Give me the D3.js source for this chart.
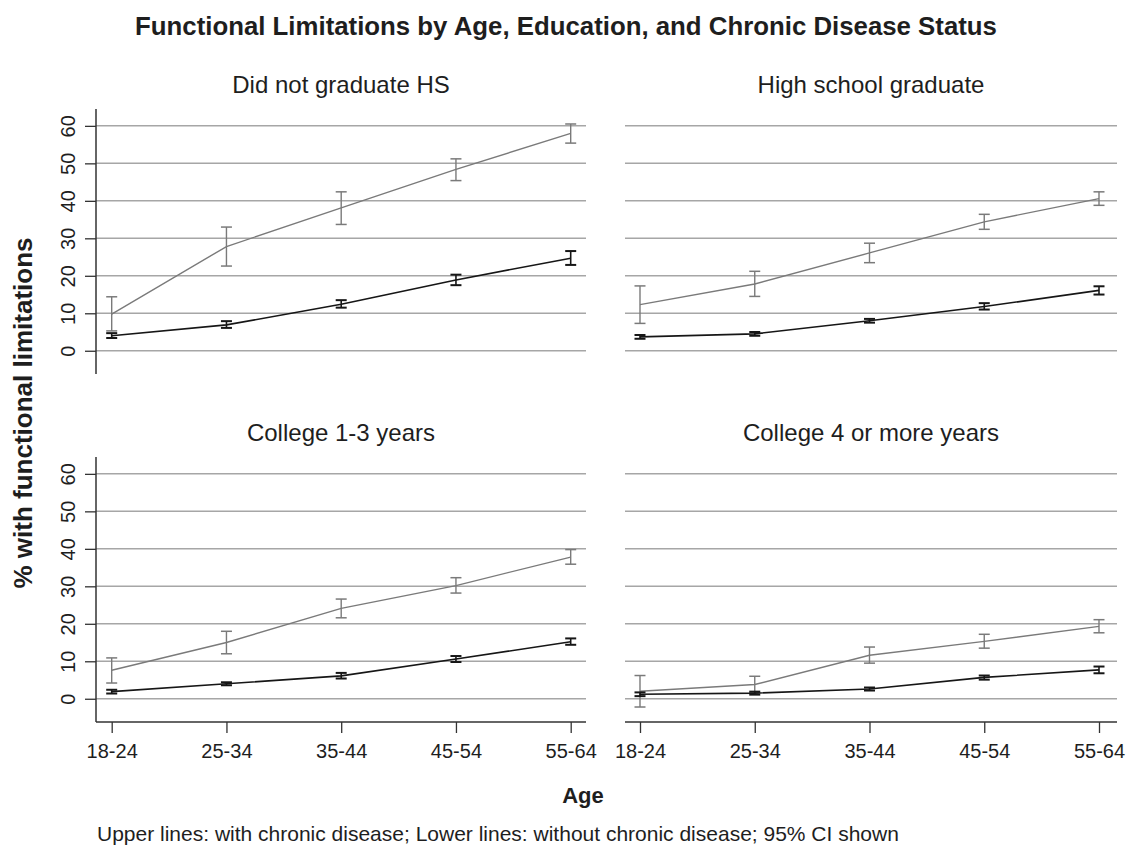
<!DOCTYPE html>
<html>
<head>
<meta charset="utf-8">
<script src="https://cdn.jsdelivr.net/npm/d3@7"></script>
<style>
  html, body { margin: 0; padding: 0; background: #fff; }
  svg { display: block; font-family: "Liberation Sans", Arial, Helvetica, sans-serif; }
</style>
</head>
<body>
<svg id="chart" width="1126" height="845"></svg>
<script>
// Age groups on the x axis
const ageGroups = ["18-24", "25-34", "35-44", "45-54", "55-64"];
// One panel per education level
const educationLevels = ["Did not graduate HS", "High school graduate", "College 1-3 years", "College 4 or more years"];
const yTicks = [0, 10, 20, 30, 40, 50, 60];

// % with functional limitations, people with a chronic disease (upper lines)
const withChronic     = [[9.8, 27.8, 38.1, 48.4, 58.0], [12.3, 17.8, 26.1, 34.4, 40.6], [7.6, 15.0, 24.1, 30.2, 37.8], [2.0, 3.8, 11.6, 15.3, 19.3]];
const withChronicLow  = [[5.3, 22.6, 33.7, 45.4, 55.4], [7.3, 14.5, 23.5, 32.4, 38.8], [4.2, 12.0, 21.6, 28.2, 35.9], [-2.2, 1.6, 9.5, 13.5, 17.6]];
const withChronicHigh = [[14.4, 33.0, 42.4, 51.2, 60.5], [17.3, 21.2, 28.7, 36.4, 42.4], [10.9, 18.0, 26.6, 32.3, 39.8], [6.2, 6.0, 13.8, 17.2, 21.1]];

// % with functional limitations, people without a chronic disease (lower lines)
const withoutChronic     = [[4.0, 6.9, 12.4, 18.9, 24.7], [3.7, 4.5, 8.0, 11.8, 16.1], [1.9, 4.0, 6.1, 10.6, 15.2], [1.2, 1.5, 2.6, 5.7, 7.7]];
const withoutChronicLow  = [[3.4, 6.1, 11.5, 17.5, 22.9], [3.2, 4.0, 7.5, 11.0, 15.0], [1.4, 3.6, 5.4, 9.8, 14.4], [0.7, 1.1, 2.2, 5.1, 6.8]];
const withoutChronicHigh = [[4.7, 7.9, 13.5, 20.3, 26.6], [4.2, 5.0, 8.5, 12.7, 17.2], [2.4, 4.4, 6.9, 11.4, 16.1], [1.7, 1.9, 3.0, 6.2, 8.6]];

const svg = d3.select("#chart");
const textColor = "#1e1e1e";

// Panel geometry: two columns, two rows
const cols = [
  { x0: 96, x1: 586, p0: 111.7, p1: 570.7 },
  { x0: 625, x1: 1117, p0: 640, p1: 1099 }
];
const rows = [
  { top: 109, bottom: 374 },
  { top: 457, bottom: 722 }
];
const yDomain = [-6.2, 64.5];

const series = [
  { mean: withChronic, lo: withChronicLow, hi: withChronicHigh, color: "#7a7a7a", width: 1.4, capWidth: 1.5 },
  { mean: withoutChronic, lo: withoutChronicLow, hi: withoutChronicHigh, color: "#161616", width: 1.6, capWidth: 2 }
];

// Title
svg.append("text")
  .attr("x", 566).attr("y", 35)
  .attr("text-anchor", "middle")
  .attr("font-size", 25.8).attr("font-weight", "bold")
  .attr("fill", textColor)
  .text("Functional Limitations by Age, Education, and Chronic Disease Status");

educationLevels.forEach((level, i) => {
  const col = cols[i % 2];
  const row = rows[Math.floor(i / 2)];
  const x = d3.scalePoint().domain(ageGroups).range([col.p0, col.p1]);
  const y = d3.scaleLinear().domain(yDomain).range([row.bottom, row.top]);
  const g = svg.append("g");

  // Panel title
  g.append("text")
    .attr("x", (col.x0 + col.x1) / 2).attr("y", row.top - 16)
    .attr("text-anchor", "middle")
    .attr("font-size", 24).attr("fill", textColor)
    .text(level);

  // Horizontal gridlines
  g.selectAll("line.grid").data(yTicks).join("line")
    .attr("class", "grid")
    .attr("x1", col.x0).attr("x2", col.x1)
    .attr("y1", d => y(d)).attr("y2", d => y(d))
    .attr("stroke", "#a6a6a6").attr("stroke-width", 1.5);

  // Y axis on the left column only
  if (i % 2 === 0) {
    const yAxis = d3.axisLeft(y).tickValues(yTicks).tickSize(11).tickSizeOuter(0).tickPadding(0);
    const ga = g.append("g").attr("transform", `translate(${col.x0},0)`).call(yAxis);
    ga.select(".domain").attr("stroke", "#333").attr("stroke-width", 1.5)
      .attr("d", `M0,${row.top}V${row.bottom}`);
    ga.selectAll(".tick line").attr("stroke", "#333").attr("stroke-width", 1.3);
    ga.selectAll(".tick text")
      .attr("x", null).attr("dy", null)
      .attr("transform", "translate(-21,0) rotate(-90)")
      .attr("text-anchor", "middle")
      .attr("font-size", 20).attr("fill", textColor)
      .attr("font-family", "'Liberation Sans', Arial, sans-serif");
  }

  // X axis on the bottom row only
  if (Math.floor(i / 2) === 1) {
    const xAxis = d3.axisBottom(x).tickSize(11).tickSizeOuter(0).tickPadding(0);
    const gx = g.append("g").attr("transform", `translate(0,${row.bottom})`).call(xAxis);
    gx.select(".domain").attr("stroke", "#333").attr("stroke-width", 1.5)
      .attr("d", `M${col.x0},0H${col.x1}`);
    gx.selectAll(".tick line").attr("stroke", "#333").attr("stroke-width", 1.3);
    gx.selectAll(".tick text")
      .attr("y", 35.5).attr("dy", null)
      .attr("font-size", 20).attr("fill", textColor)
      .attr("font-family", "'Liberation Sans', Arial, sans-serif");
  }

  // Lines with 95% confidence interval bars
  series.forEach(s => {
    const pts = ageGroups.map((a, k) => ({ a, m: s.mean[i][k], lo: s.lo[i][k], hi: s.hi[i][k] }));
    g.append("path")
      .datum(pts)
      .attr("fill", "none")
      .attr("stroke", s.color).attr("stroke-width", s.width)
      .attr("d", d3.line().x(d => x(d.a)).y(d => y(d.m)));
    const bars = g.append("g").selectAll("g").data(pts).join("g");
    bars.append("line")
      .attr("x1", d => x(d.a)).attr("x2", d => x(d.a))
      .attr("y1", d => y(d.lo)).attr("y2", d => y(d.hi))
      .attr("stroke", s.color).attr("stroke-width", s.width);
    [d => d.lo, d => d.hi].forEach(acc => {
      bars.append("line")
        .attr("x1", d => x(d.a) - 5.5).attr("x2", d => x(d.a) + 5.5)
        .attr("y1", d => y(acc(d))).attr("y2", d => y(acc(d)))
        .attr("stroke", s.color).attr("stroke-width", s.capWidth);
    });
  });
});

// Y axis title
svg.append("text")
  .attr("transform", "translate(32,413) rotate(-90)")
  .attr("text-anchor", "middle")
  .attr("font-size", 26).attr("font-weight", "bold")
  .attr("fill", textColor)
  .text("% with functional limitations");

// X axis title
svg.append("text")
  .attr("x", 583).attr("y", 803)
  .attr("text-anchor", "middle")
  .attr("font-size", 22).attr("font-weight", "bold")
  .attr("fill", textColor)
  .text("Age");

// Note
svg.append("text")
  .attr("x", 97).attr("y", 841)
  .attr("font-size", 21)
  .attr("fill", textColor)
  .text("Upper lines: with chronic disease; Lower lines: without chronic disease; 95% CI shown");
</script>
</body>
</html>
